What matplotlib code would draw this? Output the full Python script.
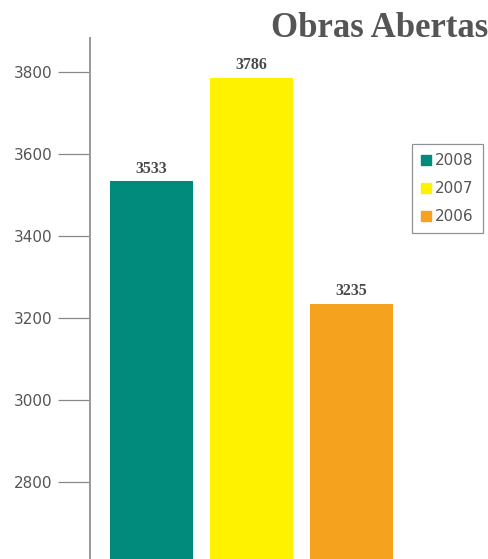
import matplotlib.pyplot as plt
from matplotlib.lines import Line2D

# data
years = ['2008', '2007', '2006']
values = [3533, 3786, 3235]
colors = ['#008b7d', '#fff200', '#f5a21f']
yticks = [2800, 3000, 3200, 3400, 3600, 3800]

W, H = 489, 559
fig = plt.figure(figsize=(W / 100, H / 100), dpi=100, facecolor='white')

# axes: spine at x=90, top at y=38, runs off the bottom of the picture
ax = fig.add_axes([90 / W, 0, 1 - 90 / W, 1 - 38 / H])
ax.set_facecolor('none')

xs = range(len(values))
ax.bar(xs, values, width=0.83, color=colors, zorder=2)
for x, v in zip(xs, values):
    ax.text(x, v + 12, str(v), ha='center', va='bottom', fontsize=11.5,
            family='Liberation Serif', fontweight='bold', color='#4a4a4a')

ax.set_xlim(-0.615, 3.375)
ax.set_ylim(2612, 3883)
ax.set_yticks(yticks)
ax.set_xticks([])

for s in ['top', 'right', 'bottom']:
    ax.spines[s].set_visible(False)
ax.spines['left'].set_color('#999999')
ax.spines['left'].set_linewidth(1.4)
ax.tick_params(axis='y', direction='out', length=23, width=0.9, color='#888888',
               pad=4, labelsize=11, labelcolor='#555555')

fig.text(488 / W, 1 - 37 / H, 'Obras Abertas', ha='right', va='baseline',
         fontsize=25, family='Liberation Serif', fontweight='bold', color='#555555')

handles = [Line2D([], [], marker='s', linestyle='none', markersize=7,
                  markerfacecolor=c, markeredgecolor=c) for c in colors]
leg = fig.legend(handles, years, loc='upper right',
                 bbox_to_anchor=(483 / W, 1 - 144 / H), frameon=True,
                 fancybox=False, fontsize=11, handlelength=0.6,
                 handletextpad=0.3, labelspacing=0.85, borderpad=0.6,
                 borderaxespad=0)
leg.get_frame().set_edgecolor('#777777')
leg.get_frame().set_linewidth(0.9)
for t in leg.get_texts():
    t.set_color('#555555')

fig.savefig('out.png', dpi=100)
